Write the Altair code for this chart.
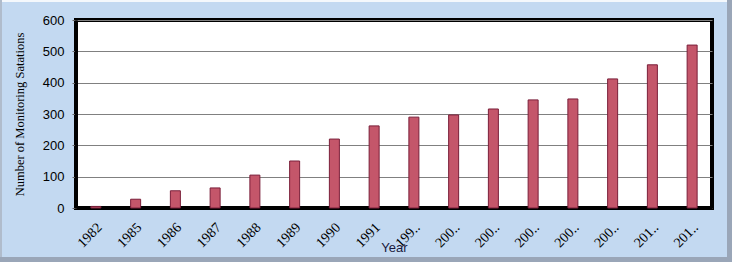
import altair as alt
import pandas as pd
import json

labels = ["1982", "1985", "1986", "1987", "1988", "1989", "1990", "1991",
          "199..", "200..", "200..", "200..", "200..", "200..", "201..", "201.."]
values = [5, 28, 55, 64, 105, 150, 220, 262, 290, 297, 316, 345, 348, 412, 457, 520]

df = pd.DataFrame({"idx": list(range(len(labels))), "label": labels, "value": values})

label_expr = json.dumps(labels) + "[datum.value]"

bars = alt.Chart(df).mark_bar(
    size=10, color="#c4566a", stroke="#7a1f3a", strokeWidth=1
).encode(
    x=alt.X("idx:O", title="Year",
            axis=alt.Axis(labelExpr=label_expr, labelAngle=-45, labelAlign="right",
                          labelBaseline="middle", labelFont="Liberation Serif",
                          labelFontSize=14, labelColor="black", labelPadding=17,
                          labelOffset=4,
                          ticks=False, domain=True, domainColor="black", domainWidth=3,
                          titleFont="Liberation Sans", titleFontSize=13,
                          titleFontWeight="normal", titleColor="#1a1a40", titleY=33)),
    y=alt.Y("value:Q", title="Number of Monitoring Satations",
            scale=alt.Scale(domain=[0, 600], nice=False),
            axis=alt.Axis(values=[0, 100, 200, 300, 400, 500, 600],
                          labelFont="Liberation Sans", labelFontSize=13, labelColor="black",
                          labelPadding=8, tickSize=4, tickColor="#666666",
                          domain=True, domainColor="black", domainWidth=3,
                          grid=True, gridColor="#808080", gridWidth=1,
                          titleFont="Liberation Serif", titleFontSize=12.5,
                          titleFontWeight="normal", titleColor="black", titlePadding=16)),
)

# outer bevel frame (decoration)
frame_df = pd.DataFrame({"k": [0]})
bottom = alt.Chart(frame_df).mark_rect(color="#9aa6b8").encode(
    x=alt.value(-76), x2=alt.value(656), y=alt.value(237), y2=alt.value(242))
right = alt.Chart(frame_df).mark_rect(color="#9aa6b8").encode(
    x=alt.value(651), x2=alt.value(656), y=alt.value(-20), y2=alt.value(242))
top = alt.Chart(frame_df).mark_rect(color="#f4f8fc").encode(
    x=alt.value(-76), x2=alt.value(651), y=alt.value(-20), y2=alt.value(-18))
left = alt.Chart(frame_df).mark_rect(color="#b0bccc").encode(
    x=alt.value(-76), x2=alt.value(-74), y=alt.value(-20), y2=alt.value(237))

chart = alt.layer(bars, bottom, right, top, left).properties(
    width=636, height=188,
    autosize="none",
    padding={"left": 76, "top": 20, "right": 20, "bottom": 54},
    background="#c3d9f1",
).configure_view(
    stroke="black", strokeWidth=4, fill="white"
)

chart.save("out.html", embed_options={"renderer": "svg", "actions": False})
